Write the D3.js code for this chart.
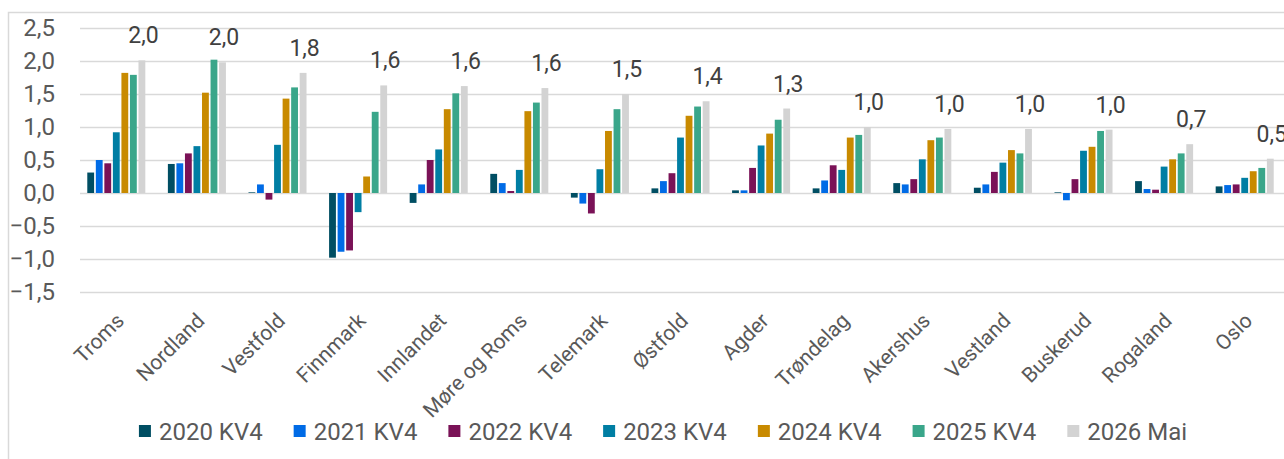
<!DOCTYPE html>
<html>
<head>
<meta charset="utf-8">
<script src="https://cdn.jsdelivr.net/npm/d3@7"></script>
<style>
  body { margin: 0; background: #fff; }
  text { font-family: Roboto, "Noto Sans", sans-serif; }
</style>
</head>
<body>
<div id="chart"></div>
<script>
// fylker, sortert etter siste verdi
const categories = ["Troms", "Nordland", "Vestfold", "Finnmark", "Innlandet", "Møre og Roms",
  "Telemark", "Østfold", "Agder", "Trøndelag", "Akershus", "Vestland", "Buskerud", "Rogaland", "Oslo"];

const seriesNames = ["2020 KV4", "2021 KV4", "2022 KV4", "2023 KV4", "2024 KV4", "2025 KV4", "2026 Mai"];

const v2020 = [0.31, 0.44, 0.01, -0.98, -0.15, 0.29, -0.07, 0.07, 0.04, 0.07, 0.15, 0.08, 0.01, 0.18, 0.10];
const v2021 = [0.50, 0.45, 0.13, -0.89, 0.13, 0.15, -0.16, 0.18, 0.04, 0.19, 0.13, 0.13, -0.11, 0.06, 0.12];
const v2022 = [0.45, 0.60, -0.10, -0.87, 0.50, 0.03, -0.31, 0.30, 0.38, 0.42, 0.21, 0.32, 0.21, 0.05, 0.13];
const v2023 = [0.92, 0.71, 0.73, -0.29, 0.66, 0.35, 0.36, 0.84, 0.72, 0.35, 0.51, 0.46, 0.64, 0.40, 0.23];
const v2024 = [1.82, 1.52, 1.43, 0.25, 1.27, 1.24, 0.94, 1.17, 0.90, 0.84, 0.80, 0.65, 0.70, 0.51, 0.33];
const v2025 = [1.79, 2.02, 1.60, 1.23, 1.51, 1.37, 1.27, 1.31, 1.11, 0.88, 0.84, 0.60, 0.94, 0.60, 0.38];
const v2026 = [2.01, 1.98, 1.82, 1.63, 1.62, 1.59, 1.50, 1.39, 1.28, 1.00, 0.97, 0.97, 0.96, 0.74, 0.52];

const seriesValues = [v2020, v2021, v2022, v2023, v2024, v2025, v2026];
const colors = ["#004e63", "#006be6", "#7a1257", "#007ea3", "#c88a00", "#3aa68a", "#d3d3d3"];
const yTicks = [-1.5, -1, -0.5, 0, 0.5, 1, 1.5, 2, 2.5];

const W = 1284, H = 459;
const svg = d3.select("#chart").append("svg")
  .attr("width", W).attr("height", H);

// ramme rundt diagrammet
svg.append("rect")
  .attr("x", 8.5).attr("y", 12.5)
  .attr("width", W + 20).attr("height", H + 20)
  .attr("fill", "none").attr("stroke", "#d9d9d9").attr("stroke-width", 1.5);

const x0 = d3.scaleBand().domain(categories).range([76, 1285])
  .paddingInner(0.28).paddingOuter(0.14);
const x1 = d3.scaleBand().domain(d3.range(seriesNames.length)).range([0, x0.bandwidth()])
  .paddingInner(0.2);
const y = d3.scaleLinear().domain([-1.5, 2.5]).range([292, 28]);

const fmt = v => d3.format(".1f")(v).replace(".", ",");

// gridlines + y-akse
const yAxis = svg.append("g")
  .attr("transform", "translate(80,0)")
  .call(d3.axisLeft(y).tickValues(yTicks).tickSize(-(W - 80)).tickFormat(fmt).tickPadding(25));
yAxis.select(".domain").remove();
yAxis.selectAll(".tick line").attr("stroke", "#d9d9d9").attr("stroke-width", 1.5);
yAxis.selectAll(".tick text")
  .attr("fill", "#595959").style("font-size", "24px");

// søyler
const rows = categories.map((c, i) => ({ cat: c, vals: seriesValues.map(s => s[i]) }));

const groups = svg.append("g").selectAll("g")
  .data(rows).join("g")
  .attr("transform", d => `translate(${x0(d.cat)},0)`);

groups.selectAll("rect")
  .data(d => d.vals.map((v, j) => ({ v, j })))
  .join("rect")
  .attr("x", d => x1(d.j))
  .attr("width", x1.bandwidth())
  .attr("y", d => y(Math.max(0, d.v)))
  .attr("height", d => Math.abs(y(d.v) - y(0)))
  .attr("fill", d => colors[d.j]);

// verdietiketter for siste serie
groups.append("text")
  .attr("x", x1(6) + x1.bandwidth() / 2 + 1.5)
  .attr("y", d => y(d.vals[6]) - 17)
  .attr("text-anchor", "middle")
  .attr("fill", "#404040")
  .style("font-size", "23px")
  .text(d => fmt(d.vals[6]));

// kategorietiketter
svg.append("g").selectAll("text")
  .data(categories).join("text")
  .attr("transform", d => `translate(${x0(d) + x0.bandwidth() / 2 + 9},322) rotate(-45)`)
  .attr("text-anchor", "end")
  .attr("fill", "#595959")
  .style("font-size", "21px")
  .text(d => d);

// tegnforklaring
const legend = svg.append("g");
let lx = 0;
seriesNames.forEach((name, i) => {
  const item = legend.append("g").attr("transform", `translate(${lx},0)`);
  item.append("rect").attr("x", 0).attr("y", -6).attr("width", 12).attr("height", 12)
    .attr("fill", colors[i]);
  const t = item.append("text").attr("x", 20).attr("y", 0).attr("dy", "0.36em")
    .attr("fill", "#595959").style("font-size", "24px").text(name);
  lx += 20 + t.node().getComputedTextLength() + 31;
});
const legendW = lx - 31;
legend.attr("transform", `translate(${663 - legendW / 2},431)`);
</script>
</body>
</html>
